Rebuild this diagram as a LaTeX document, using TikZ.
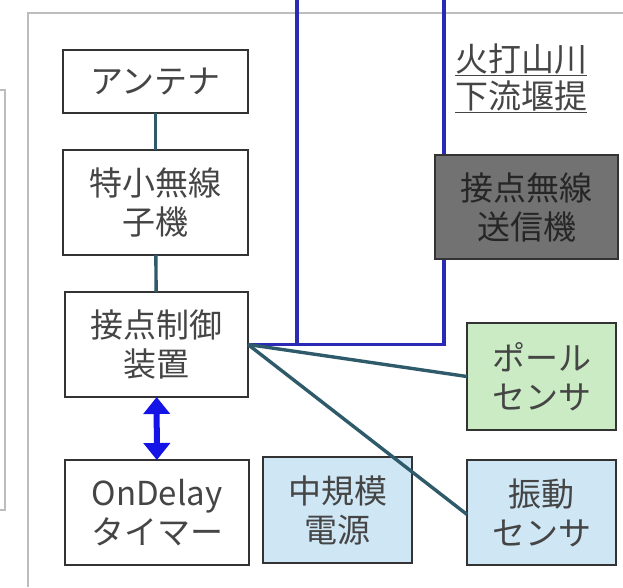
\documentclass[tikz,border=0pt]{standalone}
\usepackage{fontspec}
\setmainfont{Noto Sans CJK JP}
\usetikzlibrary{arrows.meta}
\definecolor{wire}{HTML}{2E5A6A}
\definecolor{loopblue}{HTML}{2A2AB4}
\definecolor{arrowblue}{HTML}{1414E6}
\definecolor{boxtext}{HTML}{454545}
\definecolor{skyfill}{HTML}{CFE7F5}
\definecolor{greenfill}{HTML}{CBEBC5}
\definecolor{darkfill}{HTML}{727272}
\definecolor{framegray}{HTML}{BDBDBD}
\tikzset{
  unit/.style={draw=black!80, line width=2.4pt, fill=white, text=boxtext,
    align=center, inner sep=0pt, outer sep=0pt,
    font=\fontsize{33}{39}\selectfont},
  wirelink/.style={wire, line width=3.4pt},
  bluelink/.style={loopblue, line width=3.2pt},
  framelink/.style={framegray, line width=2.2pt}
}

\begin{document}
\begin{tikzpicture}[x=1pt, y=-1pt]
		%%%%% START %%%%%
		\useasboundingbox (0, 0) rectangle (623, 587);
		
		\draw[framelink] (0, 90) -| (5, 510) -- (0, 510);
		\draw[framelink] (28, 587) -- (28, 13) -- (623, 13);
		
		\coordinate (topL) at (297, 0);
		\coordinate (topR) at (444, 0);
		\coordinate (jointL) at (297, 344.5);
		\coordinate (jointR) at (444, 344.5);
		\draw[bluelink] (topL) -- (jointL) -- (jointR) -- (topR);
		
		\node[unit, minimum width=185, minimum height=63] (antenna) at (155.5, 81.5) {アンテナ};
		\node[unit, minimum width=185, minimum height=105] (slave) at (155.5, 202.5) {特小無線\\子機};
		\node[unit, minimum width=183, minimum height=105] (control) at (156.5, 344.5) {接点制御\\装置};
		\node[unit, minimum width=184, minimum height=105] (timer) at (157, 512.5) {OnDelay\\タイマー};
		\node[unit, fill=skyfill, minimum width=149, minimum height=106] (power) at (337.5, 510) {中規模\\電源};
		\node[unit, fill=greenfill, minimum width=149, minimum height=107] (pole) at (541.5, 376.5) {ポール\\センサ};
		\node[unit, fill=skyfill, minimum width=149, minimum height=105] (shock) at (541.5, 512.5) {振動\\センサ};
		\node[unit, fill=darkfill, text=black!85, minimum width=183, minimum height=104] (sender) at (526.5, 207) {接点無線\\送信機};
		
		\node[text=boxtext, align=center, inner sep=0pt, font=\fontsize{33}{37}\selectfont] (site) at (521, 78) {\underline{火打山川}\\\underline{下流堰提}};
		
		\draw[wirelink] (antenna) -- (slave);
		\draw[wirelink] (slave) -- (control);
		\draw[bluelink] (control.east) -- (jointL);
		\draw[wirelink] (control.east) -- (pole.west);
		\draw[wirelink] (control.east) -- ([yshift=-2]shock.west);
		
		\draw[arrowblue, line width=6pt, {Triangle[width=26pt, length=17pt]}-{Triangle[width=26pt, length=17pt]}] (control) -- (timer);
		
		%%%%% END %%%%%
	\end{tikzpicture}
\end{document}
